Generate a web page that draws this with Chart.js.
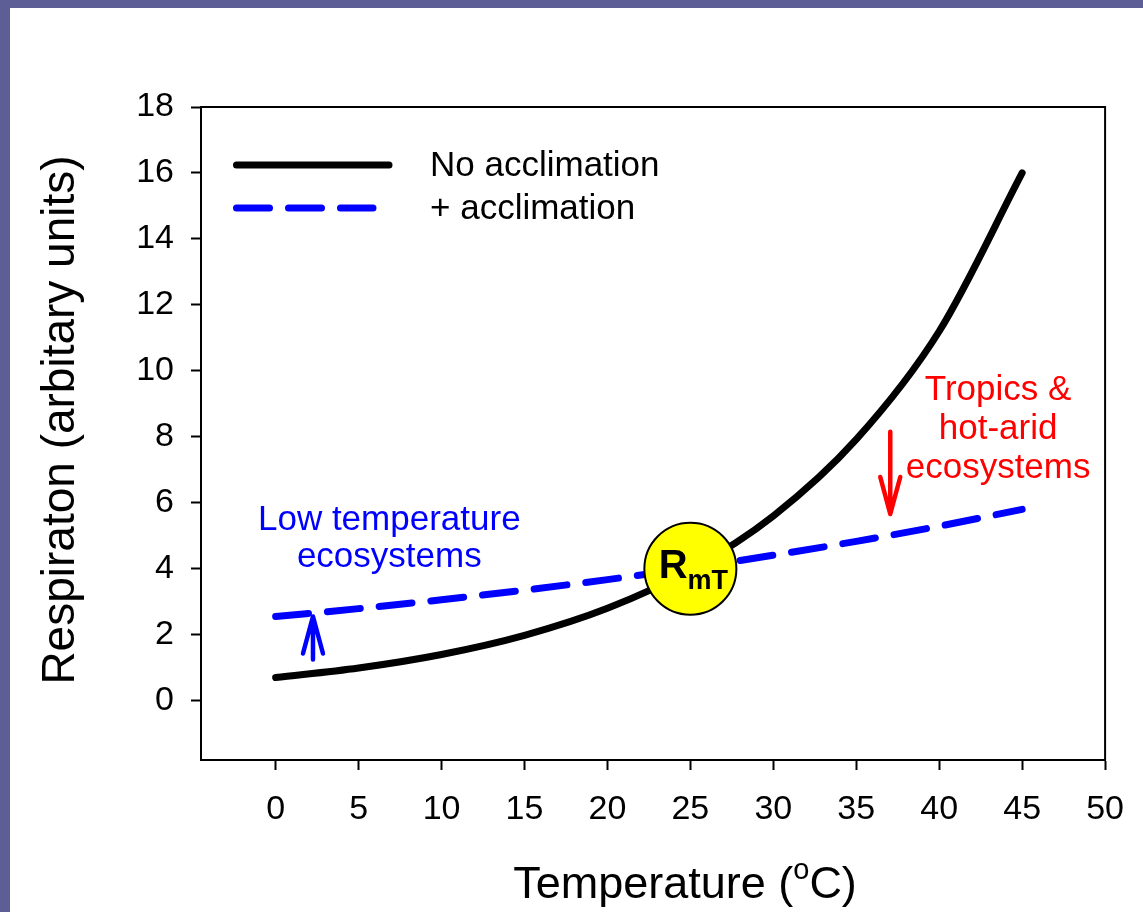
<!DOCTYPE html>
<html>
<head>
<meta charset="utf-8">
<script src="https://cdn.jsdelivr.net/npm/chart.js@4"></script>
<style>
  html, body { margin: 0; padding: 0; }
  body { width: 1143px; height: 912px; background: #5c5e95; position: relative; overflow: hidden; }
  #panel { position: absolute; left: 10px; top: 8px; width: 1133px; height: 904px; background: #fff; }
</style>
</head>
<body>
<div id="panel"><canvas id="chart" width="1133" height="904"></canvas></div>
<script>
// Data
const temps = [0, 5, 10, 15, 20, 25, 30, 35, 40, 45];
const noAcclimation = [0.70, 0.99, 1.40, 1.98, 2.80, 3.96, 5.60, 7.92, 11.2, 16.0];
const withAcclimation = [2.55, 2.79, 3.06, 3.35, 3.67, 4.02, 4.41, 4.83, 5.29, 5.80];
const rmtTemp = [25];
const rmtResp = [4.0];
const xTicks = [0, 5, 10, 15, 20, 25, 30, 35, 40, 45, 50];
const yTicks = [0, 2, 4, 6, 8, 10, 12, 14, 16, 18];

const FONT = '"Liberation Sans", Arial, sans-serif';
const BLUE = '#0000ff';
const RED = '#ff0000';

// helper: simple arrow with open head
function drawArrow(ctx, x, yFrom, yTo, color) {
    const dir = yTo > yFrom ? 1 : -1;
    ctx.strokeStyle = color;
    ctx.lineWidth = 4.5;
    ctx.lineCap = 'round';
    ctx.lineJoin = 'round';
    ctx.beginPath();
    ctx.moveTo(x, yFrom);
    ctx.lineTo(x, yTo);
    ctx.moveTo(x - 10, yTo - dir * 37);
    ctx.lineTo(x, yTo);
    ctx.lineTo(x + 10, yTo - dir * 37);
    ctx.stroke();
}

// Frame, legend, annotations, axis titles
const overlay = {
    id: 'overlay',
    afterDatasetsDraw(chart) {
        const { ctx, chartArea: a, scales: { x, y } } = chart;
        const ds = chart.data.datasets;
        ctx.save();

        // top and right sides of the box
        ctx.strokeStyle = '#000';
        ctx.lineWidth = 2;
        ctx.beginPath();
        ctx.moveTo(a.left, a.top);
        ctx.lineTo(a.right, a.top);
        ctx.lineTo(a.right, a.bottom);
        ctx.stroke();

        // legend
        const lx = a.left + 32;
        [ds[1], ds[2]].forEach((d, i) => {
            const ly = a.top + 58 + i * 43;
            ctx.strokeStyle = d.borderColor;
            ctx.lineWidth = d.borderWidth;
            ctx.lineCap = 'round';
            ctx.setLineDash(d.borderDash || []);
            ctx.beginPath();
            ctx.moveTo(lx + 3.5, ly);
            ctx.lineTo(lx + (i === 0 ? 156 : 140), ly);
            ctx.stroke();
            ctx.setLineDash([]);
            ctx.fillStyle = '#000';
            ctx.font = '35px ' + FONT;
            ctx.textAlign = 'left';
            ctx.textBaseline = 'middle';
            ctx.fillText(d.label, lx + 197, ly + 1);
        });

        // RmT label in the circle
        const cx = x.getPixelForValue(rmtTemp[0]);
        const cy = y.getPixelForValue(rmtResp[0]);
        ctx.fillStyle = '#000';
        ctx.textBaseline = 'alphabetic';
        ctx.textAlign = 'left';
        ctx.font = 'bold 40px ' + FONT;
        const rw = ctx.measureText('R').width;
        ctx.font = 'bold 27px ' + FONT;
        const sw = ctx.measureText('mT').width;
        const sx = cx - (rw + sw) / 2 + 3;
        ctx.font = 'bold 40px ' + FONT;
        ctx.fillText('R', sx, cy + 9);
        ctx.font = 'bold 27px ' + FONT;
        ctx.fillText('mT', sx + rw, cy + 20);

        // arrows
        drawArrow(ctx, x.getPixelForValue(2.25), y.getPixelForValue(1.25), y.getPixelForValue(2.55), BLUE);
        drawArrow(ctx, x.getPixelForValue(37.05), y.getPixelForValue(8.15), y.getPixelForValue(5.66), RED);

        // annotation text
        ctx.textAlign = 'center';
        ctx.font = '35px ' + FONT;
        ctx.fillStyle = BLUE;
        ctx.fillText('Low temperature', x.getPixelForValue(6.85), y.getPixelForValue(5.18));
        ctx.fillText('ecosystems', x.getPixelForValue(6.85), y.getPixelForValue(4.05));
        ctx.fillStyle = RED;
        ctx.fillText('Tropics &', x.getPixelForValue(43.55), y.getPixelForValue(9.12));
        ctx.fillText('hot-arid', x.getPixelForValue(43.55), y.getPixelForValue(7.92));
        ctx.fillText('ecosystems', x.getPixelForValue(43.55), y.getPixelForValue(6.74));

        // y axis title
        ctx.fillStyle = '#000';
        ctx.font = '46px ' + FONT;
        ctx.save();
        ctx.translate(64, 412);
        ctx.rotate(-Math.PI / 2);
        ctx.textAlign = 'center';
        ctx.fillText('Respiraton (arbitary units)', 0, 0);
        ctx.restore();

        // x axis title with superscript o
        const t1 = 'Temperature (', t2 = 'o', t3 = 'C)';
        ctx.textAlign = 'left';
        ctx.font = '45px ' + FONT;
        const w1 = ctx.measureText(t1).width, w3 = ctx.measureText(t3).width;
        ctx.font = '29px ' + FONT;
        const w2 = ctx.measureText(t2).width;
        let tx = 675 - (w1 + w2 + w3) / 2;
        const ty = 890;
        ctx.font = '45px ' + FONT;
        ctx.fillText(t1, tx, ty);
        ctx.font = '29px ' + FONT;
        ctx.fillText(t2, tx + w1, ty - 19);
        ctx.font = '45px ' + FONT;
        ctx.fillText(t3, tx + w1 + w2, ty);

        ctx.restore();
    }
};

const ctx = document.getElementById('chart').getContext('2d');
new Chart(ctx, {
    type: 'line',
    data: {
        datasets: [
            {
                type: 'scatter',
                label: 'RmT',
                data: rmtTemp.map((t, i) => ({ x: t, y: rmtResp[i] })),
                pointRadius: 46,
                pointHoverRadius: 46,
                pointBackgroundColor: '#ffff00',
                pointBorderColor: '#000',
                pointBorderWidth: 2,
                showLine: false
            },
            {
                label: 'No acclimation',
                data: temps.map((t, i) => ({ x: t, y: noAcclimation[i] })),
                borderColor: '#000',
                borderWidth: 7,
                borderCapStyle: 'round',
                cubicInterpolationMode: 'monotone',
                pointRadius: 0,
                fill: false
            },
            {
                label: '+ acclimation',
                data: temps.map((t, i) => ({ x: t, y: withAcclimation[i] })),
                borderColor: BLUE,
                borderWidth: 7,
                borderDash: [33, 19],
                borderCapStyle: 'round',
                cubicInterpolationMode: 'monotone',
                pointRadius: 0,
                fill: false
            }
        ]
    },
    options: {
        responsive: false,
        animation: false,
        // autoPadding off, otherwise the big RmT point shrinks the plot area
        layout: { autoPadding: false, padding: { top: 99, right: 36, left: 0, bottom: 0 } },
        plugins: {
            legend: { display: false },
            tooltip: { enabled: false }
        },
        scales: {
            x: {
                type: 'linear',
                min: -4.5,
                max: 50,
                afterBuildTicks: s => { s.ticks = xTicks.map(v => ({ value: v })); },
                afterFit: s => { s.height = 152; },
                grid: { drawOnChartArea: false, drawTicks: true, tickLength: 10, tickWidth: 2, tickColor: '#000' },
                border: { display: true, color: '#000', width: 2 },
                ticks: { color: '#000', padding: 19, maxRotation: 0, font: { family: FONT, size: 34 } }
            },
            y: {
                type: 'linear',
                min: -1.8,
                max: 18,
                afterBuildTicks: s => { s.ticks = yTicks.map(v => ({ value: v })); },
                afterFit: s => { s.width = 191; },
                grid: { drawOnChartArea: false, drawTicks: true, tickLength: 10, tickWidth: 2, tickColor: '#000' },
                border: { display: true, color: '#000', width: 2 },
                ticks: { color: '#000', padding: 17, font: { family: FONT, size: 34 } }
            }
        }
    },
    plugins: [overlay]
});
</script>
</body>
</html>
